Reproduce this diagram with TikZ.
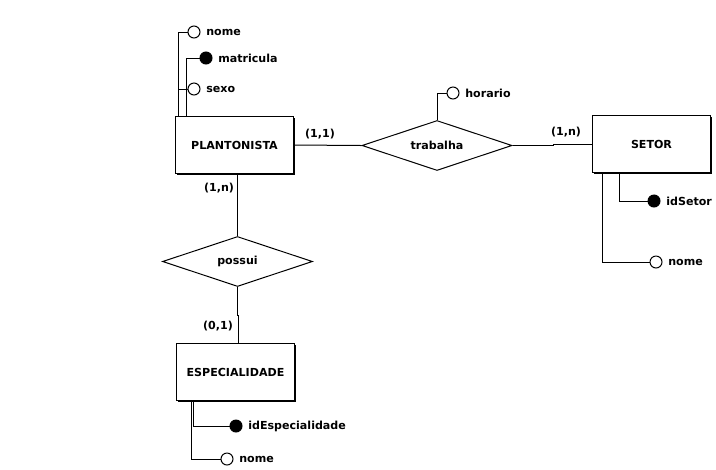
\documentclass[tikz,border=0pt]{standalone}
\usepackage{fontspec}
\setmainfont{DejaVu Sans}
\usetikzlibrary{shapes.geometric,shadows,positioning}

\begin{document}
\begin{tikzpicture}[x=0.75pt,y=-0.75pt,line width=0.75pt,
	font=\fontsize{8.3}{10}\selectfont\bfseries,
	entidade/.style={draw,fill=white,minimum width=89pt,minimum height=42.5pt,inner sep=0pt,
		general shadow={fill=black,shadow xshift=1.1pt,shadow yshift=-1.1pt}},
	relac/.style={draw,diamond,aspect=3,inner sep=0pt,minimum width=112.5pt,minimum height=37.5pt},
	atrib/.style={draw,circle,fill=white,minimum size=9pt,inner sep=0pt},
	chave/.style={atrib,fill=black},
	rotulo/.style={anchor=west,inner sep=0pt},
	card/.style={inner sep=0pt}]
	
	\useasboundingbox (0,0) rectangle (716,469);
	
	% entidades e relacionamentos
	\node[entidade] (plant) at (234.5,145) {PLANTONISTA};
	\node[entidade] (setor) at (651.5,144) {SETOR};
	\node[entidade] (espec) at (235.5,372) {ESPECIALIDADE};
	\node[relac] (trab) at (437,145.5) {trabalha};
	\node[relac] (poss) at (237.5,261.5) {possui};
	
	% atributos
	\node[atrib] (pnome) at (194,32) {};
	\node[chave] (pmatr) at (206,58) {};
	\node[atrib] (psexo) at (194,89) {};
	\node[atrib] (thor)  at (453,93) {};
	\node[chave] (sid)   at (654,201) {};
	\node[atrib] (snome) at (656,262) {};
	\node[chave] (eid)   at (236,426) {};
	\node[atrib] (enome) at (227,459) {};
	
	\node[rotulo,right=4pt of pnome] (pnomel) {nome};
	\node[rotulo,right=4pt of pmatr] (pmatrl) {matricula};
	\node[rotulo,right=4pt of psexo] (psexol) {sexo};
	\node[rotulo,right=4pt of thor]  (thorl)  {horario};
	\node[rotulo,right=4pt of sid]   (sidl)   {idSetor};
	\node[rotulo,right=4pt of snome] (snomel) {nome};
	\node[rotulo,right=4pt of eid]   (eidl)   {idEspecialidade};
	\node[rotulo,right=4pt of enome] (enomel) {nome};
	
	% ligacoes
	\draw (plant.north west) ++(4,0) |- (pnome.west);
	\draw (plant.north west) ++(12,0) |- (pmatr.west);
	\draw (plant.north west) ++(4,0) |- (psexo.west);
	\draw (trab.north) |- (thor.west);
	\draw (setor.south west) ++(28,0) |- (sid.west);
	\draw (setor.south west) ++(11,0) |- (snome.west);
	\draw (espec.south west) ++(18,0) |- (eid.west);
	\draw (espec.south west) ++(16,0) |- (enome.west);
	
	\draw (plant.east) -- (trab.west);
	\draw (trab.east) -- ++(41,0) |- (setor.west);
	\draw (poss.north) -- (poss.north |- plant.south);
	\draw (poss.south) -- ++(0,28) -| ([xshift=0.75pt]poss.south |- espec.north);
	
	% cardinalidades
	\path
		(320,134) node[card] (c1) {(1,1)}
		(566,132) node[card] (c2) {(1,n)}
		(219,188) node[card] (c3) {(1,n)}
		(218,326) node[card] (c4) {(0,1)};
	
\end{tikzpicture}
\end{document}
